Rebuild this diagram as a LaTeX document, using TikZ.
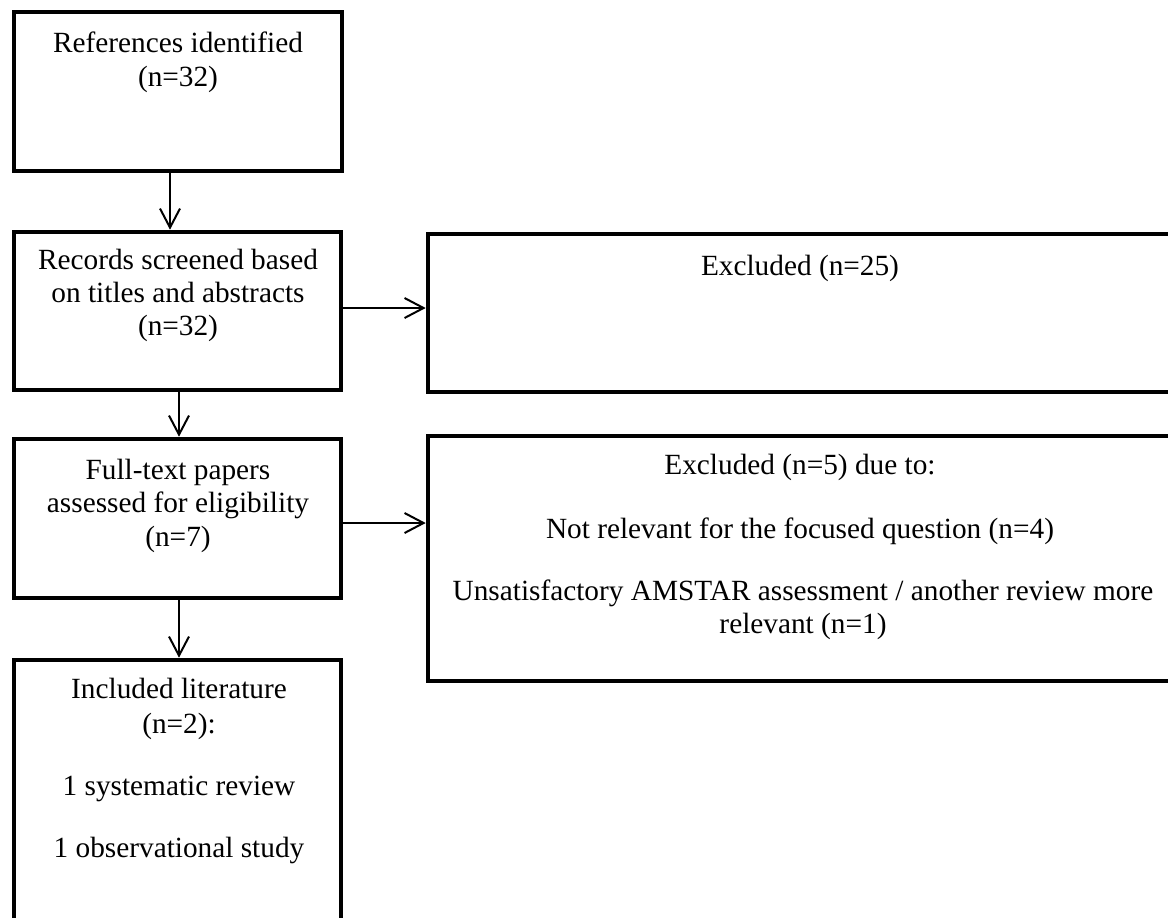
\documentclass[tikz,border=0pt]{standalone}
\usepackage{fontspec}
\setmainfont{Liberation Serif}
\usetikzlibrary{arrows.meta}
\tikzset{
  box/.style={draw=black, line width=2.3pt, rectangle, inner sep=0pt, fill=white},
  arr/.style={line width=1pt, -{Straight Barb[length=9.5pt, width=10pt, line width=1pt]}},
  txt/.style={anchor=base, inner sep=0pt, font=\fontsize{14.65pt}{16.5pt}\selectfont}
}
\begin{document}
\begin{tikzpicture}[x=0.5pt, y=-0.5pt]
\clip (0,0) rectangle (1168,917);
\fill[white] (0,0) rectangle (1168,917);
% boxes
\node[box, minimum width=164pt, minimum height=79.5pt] (b1) at (178,91.5) {};
\node[box, minimum width=163.5pt, minimum height=79pt] (b2) at (177.5,311) {};
\node[box, minimum width=163.5pt, minimum height=79.5pt] (b3) at (177.5,518.5) {};
\node[box, minimum width=163.5pt, minimum height=132.5pt] (b4) at (177.5,792.5) {};
\node[box, minimum width=372pt, minimum height=79pt] (r1) at (800,313) {};
\node[box, minimum width=372pt, minimum height=122.5pt] (r2) at (800,558.5) {};
% texts
\node[txt] (t11) at (178,52) {References identified};
\node[txt] (t12) at (178,86) {(n=32)};
\node[txt] (t21) at (178,269) {Records screened based};
\node[txt] (t22) at (178,302) {on titles and abstracts};
\node[txt] (t23) at (178,335) {(n=32)};
\node[txt] (t31) at (178,479) {Full-text papers};
\node[txt] (t32) at (178,512.5) {assessed for eligibility};
\node[txt] (t33) at (178,546) {(n=7)};
\node[txt] (t41) at (179,698) {Included literature};
\node[txt] (t42) at (179,733) {(n=2):};
\node[txt] (t43) at (179,795) {1 systematic review};
\node[txt] (t44) at (179,857) {1 observational study};
\node[txt] (r11) at (800,275) {Excluded (n=25)};
\node[txt] (r21) at (800,474) {Excluded (n=5) due to:};
\node[txt] (r22) at (800,538) {Not relevant for the focused question (n=4)};
\node[txt] (r23) at (803,600) {Unsatisfactory AMSTAR assessment / another review more};
\node[txt] (r24) at (803,633) {relevant (n=1)};
% connectors
\draw[arr] (b1.south -| 170,0) -- (b2.north -| 170,0);
\draw[arr] (b2.south -| 179,0) -- (b3.north -| 179,0);
\draw[arr] (b3.south -| 179,0) -- (b4.north -| 179,0);
\draw[arr] (b2.east |- 0,308) -- (r1.west |- 0,308);
\draw[arr] (b3.east |- 0,523) -- (r2.west |- 0,523);
\end{tikzpicture}
\end{document}
